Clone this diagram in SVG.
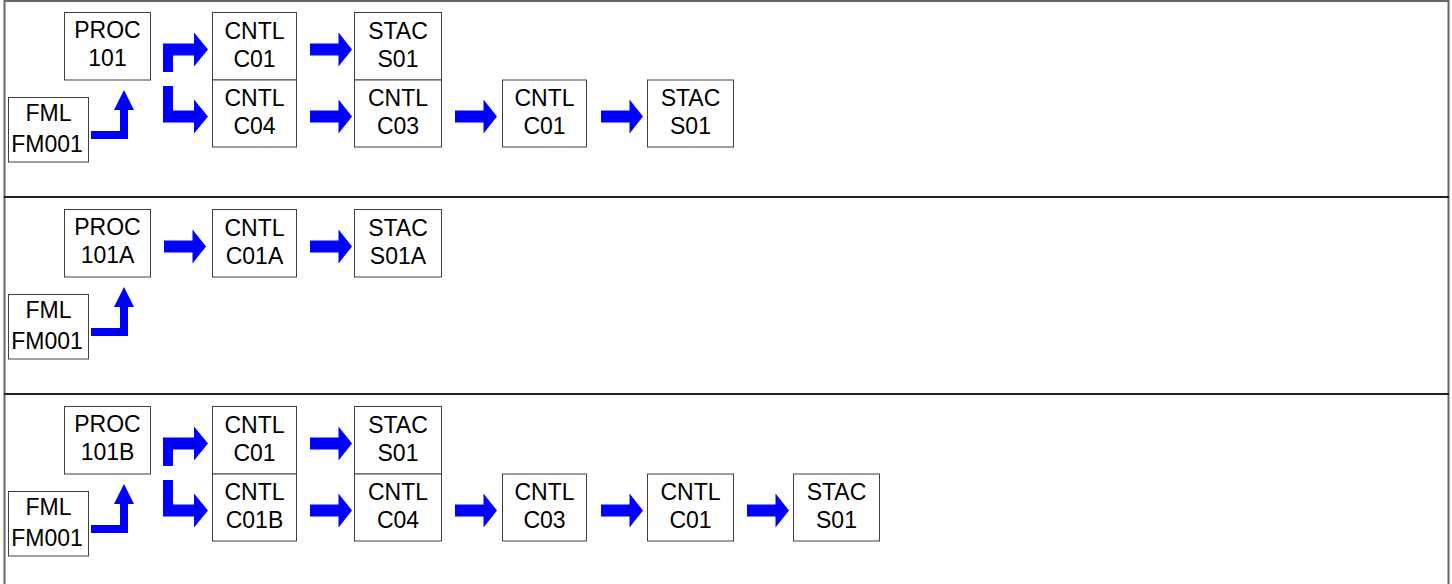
<svg xmlns="http://www.w3.org/2000/svg" xmlns:xlink="http://www.w3.org/1999/xlink" width="1452" height="584" viewBox="0 0 1452 584">
<style>
.bg{fill:#ffffff}
.frame{stroke:#666666;stroke-width:2;fill:none}
.sep{stroke:#222222;stroke-width:2;fill:none}
.box{fill:#ffffff;stroke:#404040;stroke-width:1}
.t{font-family:"Liberation Sans",Arial,sans-serif;font-size:23px;fill:#000000;text-anchor:middle}
.arr{fill:#0000ff;stroke:none}
</style>
<defs>
<polygon id="harrow" class="arr" points="0,-6 28.5,-6 28.5,-17 42,0 28.5,17 28.5,6 0,6"/>
<polygon id="uparrow" class="arr" points="91,131 120,131 120,110 114,110 124,90 134,110 128,110 128,139 91,139"/>
<polygon id="branchUp" class="arr" points="163,72 163,43.5 194,43.5 194,32.5 208,49.5 194,66.5 194,55.5 173,55.5 173,72"/>
<polygon id="branchDown" class="arr" points="163,86 173,86 173,110.5 194,110.5 194,99.5 208,116.5 194,133.5 194,122.5 163,122.5"/>
</defs>
<rect class="bg" x="0" y="0" width="1452" height="584"/>
<g id="frame">
<line class="frame" x1="4.5" y1="0" x2="4.5" y2="584"/>
<line class="frame" x1="1448.5" y1="0" x2="1448.5" y2="584"/>
<line class="frame" x1="4" y1="1" x2="1449" y2="1"/>
<line class="sep" x1="4" y1="197" x2="1449" y2="197"/>
<line class="sep" x1="4" y1="394" x2="1449" y2="394"/>
</g>

<!-- Row 1 -->
<g id="r1-proc"><rect class="box" x="64.5" y="12.5" width="86" height="67.5"/><text class="t" x="107.5" y="37.5">PROC</text><text class="t" x="107.5" y="65.5">101</text></g>
<g id="r1-fml"><rect class="box" x="8.5" y="97.5" width="80" height="64.5"/><text class="t" x="48.5" y="121">FML</text><text class="t" x="47" y="152">FM001</text></g>
<g id="r1-cntl-c01a"><rect class="box" x="212.5" y="12.5" width="84" height="67.5"/><text class="t" x="254.5" y="38.5">CNTL</text><text class="t" x="254.5" y="66.5">C01</text></g>
<g id="r1-cntl-c04"><rect class="box" x="212.5" y="80" width="84" height="67"/><text class="t" x="254.5" y="105.5">CNTL</text><text class="t" x="254.5" y="133.5">C04</text></g>
<g id="r1-stac-s01a"><rect class="box" x="354.5" y="12.5" width="87" height="67.5"/><text class="t" x="398" y="38.5">STAC</text><text class="t" x="398" y="66.5">S01</text></g>
<g id="r1-cntl-c03"><rect class="box" x="354.5" y="80" width="87" height="67"/><text class="t" x="398" y="105.5">CNTL</text><text class="t" x="398" y="133.5">C03</text></g>
<g id="r1-cntl-c01b"><rect class="box" x="502.5" y="80" width="84" height="67"/><text class="t" x="544.5" y="105.5">CNTL</text><text class="t" x="544.5" y="133.5">C01</text></g>
<g id="r1-stac-s01b"><rect class="box" x="647.5" y="80" width="86" height="67"/><text class="t" x="690.5" y="105.5">STAC</text><text class="t" x="690.5" y="133.5">S01</text></g>

<!-- Row 2 -->
<g id="r2-proc"><rect class="box" x="64.5" y="209.5" width="86" height="67.5"/><text class="t" x="107.5" y="234.5">PROC</text><text class="t" x="107.5" y="262.5">101A</text></g>
<g id="r2-fml"><rect class="box" x="8.5" y="294.5" width="80" height="64.5"/><text class="t" x="48.5" y="318">FML</text><text class="t" x="47" y="349">FM001</text></g>
<g id="r2-cntl-c01a"><rect class="box" x="212.5" y="209.5" width="84" height="67.5"/><text class="t" x="254.5" y="235.5">CNTL</text><text class="t" x="254.5" y="263.5">C01A</text></g>
<g id="r2-stac-s01a"><rect class="box" x="354.5" y="209.5" width="87" height="67.5"/><text class="t" x="398" y="235.5">STAC</text><text class="t" x="398" y="263.5">S01A</text></g>

<!-- Row 3 -->
<g id="r3-proc"><rect class="box" x="64.5" y="406.5" width="86" height="67.5"/><text class="t" x="107.5" y="431.5">PROC</text><text class="t" x="107.5" y="459.5">101B</text></g>
<g id="r3-fml"><rect class="box" x="8.5" y="491.5" width="80" height="64.5"/><text class="t" x="48.5" y="515">FML</text><text class="t" x="47" y="546">FM001</text></g>
<g id="r3-cntl-c01a"><rect class="box" x="212.5" y="406.5" width="84" height="67.5"/><text class="t" x="254.5" y="432.5">CNTL</text><text class="t" x="254.5" y="460.5">C01</text></g>
<g id="r3-cntl-c01b"><rect class="box" x="212.5" y="474" width="84" height="67"/><text class="t" x="254.5" y="499.5">CNTL</text><text class="t" x="254.5" y="527.5">C01B</text></g>
<g id="r3-stac-s01a"><rect class="box" x="354.5" y="406.5" width="87" height="67.5"/><text class="t" x="398" y="432.5">STAC</text><text class="t" x="398" y="460.5">S01</text></g>
<g id="r3-cntl-c04"><rect class="box" x="354.5" y="474" width="87" height="67"/><text class="t" x="398" y="499.5">CNTL</text><text class="t" x="398" y="527.5">C04</text></g>
<g id="r3-cntl-c03"><rect class="box" x="502.5" y="474" width="84" height="67"/><text class="t" x="544.5" y="499.5">CNTL</text><text class="t" x="544.5" y="527.5">C03</text></g>
<g id="r3-cntl-c01c"><rect class="box" x="647.5" y="474" width="86" height="67"/><text class="t" x="690.5" y="499.5">CNTL</text><text class="t" x="690.5" y="527.5">C01</text></g>
<g id="r3-stac-s01b"><rect class="box" x="793.5" y="474" width="86" height="67"/><text class="t" x="836.5" y="499.5">STAC</text><text class="t" x="836.5" y="527.5">S01</text></g>

<g id="connectors">
<!-- Row 1 -->
<use xlink:href="#uparrow"/>
<use xlink:href="#branchUp"/>
<use xlink:href="#branchDown"/>
<use xlink:href="#harrow" x="310" y="49.5"/>
<use xlink:href="#harrow" x="310" y="116.5"/>
<use xlink:href="#harrow" x="455" y="116.5"/>
<use xlink:href="#harrow" x="601" y="116.5"/>
<!-- Row 2 -->
<use xlink:href="#uparrow" y="197"/>
<use xlink:href="#harrow" x="164" y="246.5"/>
<use xlink:href="#harrow" x="310" y="246.5"/>
<!-- Row 3 -->
<use xlink:href="#uparrow" y="394"/>
<use xlink:href="#branchUp" y="394"/>
<use xlink:href="#branchDown" y="394"/>
<use xlink:href="#harrow" x="310" y="443.5"/>
<use xlink:href="#harrow" x="310" y="510.5"/>
<use xlink:href="#harrow" x="455" y="510.5"/>
<use xlink:href="#harrow" x="601" y="510.5"/>
<use xlink:href="#harrow" x="747" y="510.5"/>
</g>
</svg>
